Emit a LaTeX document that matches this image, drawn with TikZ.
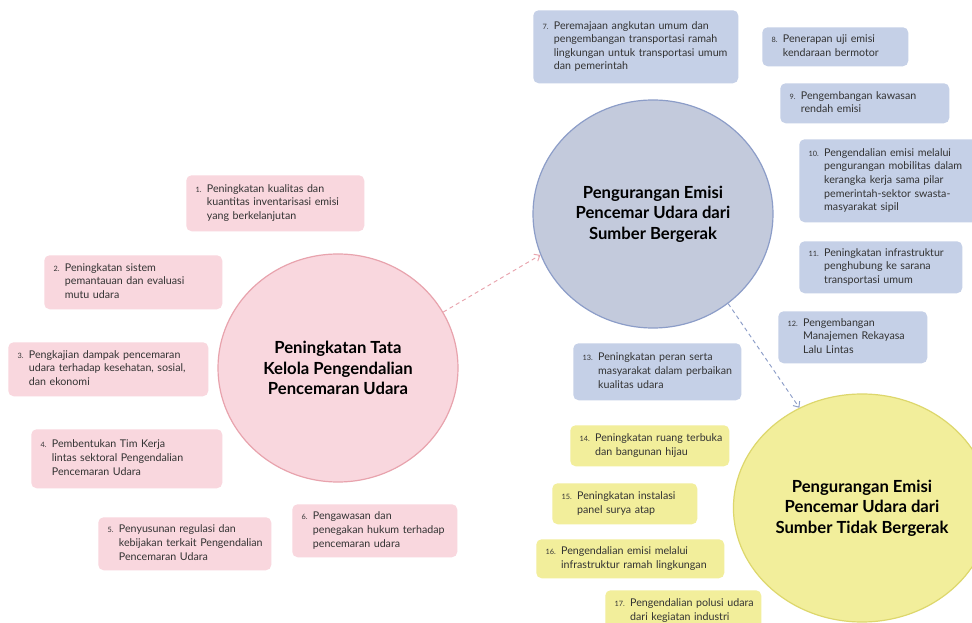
\documentclass[tikz,border=0pt]{standalone}
\usepackage{fontspec}
\setmainfont{Lato}
\usetikzlibrary{shapes.geometric, arrows, arrows.meta, positioning}

\definecolor{pinkfill}{HTML}{F9D7DE}
\definecolor{pinkline}{HTML}{E8A3AD}
\definecolor{bluefill}{HTML}{C5D0E7}
\definecolor{bluecirc}{HTML}{C3CADC}
\definecolor{blueline}{HTML}{8C9DC8}
\definecolor{yellowfill}{HTML}{F2EE9B}
\definecolor{yellowline}{HTML}{DDD76C}
\definecolor{textgray}{HTML}{333333}

% item text: small number, then the lines hanging beside it
\newcommand{\itm}[2]{%
  \begin{tabular}[t]{@{}l@{\hspace{4pt}}l@{}}
    {\fontsize{5.5}{10.2}\selectfont #1} &
    \begin{tabular}[t]{@{}l@{}}#2\end{tabular}
  \end{tabular}}

\tikzset{
  itembox/.style={rectangle, rounded corners=4pt, anchor=north west,
    inner xsep=7pt, inner ysep=2pt, align=left, text=textgray,
    font=\fontsize{8}{10.2}\selectfont},
  box size/.style 2 args={minimum width=#1*0.75pt, minimum height=#2*0.75pt,
    text width=#1*0.75pt-14pt},
  pinkbox/.style={itembox, fill=pinkfill},
  bluebox/.style={itembox, fill=bluefill},
  yellowbox/.style={itembox, fill=yellowfill},
  topic/.style={ellipse, minimum width=180pt, minimum height=171pt,
    line width=0.9pt, align=center, text=black,
    font=\fontsize{12.5}{15.5}\selectfont\bfseries},
  link/.style={-{Straight Barb[length=3.5pt, width=6pt]}, dash pattern=on 3pt off 2.5pt,
    line width=0.7pt},
}

\begin{document}
\begin{tikzpicture}[x=0.75pt, y=-0.75pt]
  \clip (0,0) rectangle (972,623);
  \fill[white] (0,0) rectangle (972,623);

  % three main topics
  \node[topic, fill=pinkfill, draw=pinkline] (tata) at (338,368)
    {Peningkatan Tata\\Kelola Pengendalian\\Pencemaran Udara};
  \node[topic, fill=bluecirc, draw=blueline] (gerak) at (653,214)
    {Pengurangan Emisi\\Pencemar Udara dari\\Sumber Bergerak};
  \node[topic, fill=yellowfill, draw=yellowline] (diam) at (862,508)
    {Pengurangan Emisi\\Pencemar Udara dari\\Sumber Tidak Bergerak};

  \draw[link, pinkline] (tata.28) -- (gerak.200);
  \draw[link, blueline] (gerak.310) -- (diam.122);

  % tata kelola
  \node[pinkbox, box size={178}{56}] (p1) at (186,175)
    {\itm{1.}{Peningkatan kualitas dan\\kuantitas inventarisasi emisi\\yang berkelanjutan}};
  \node[pinkbox, box size={178}{54}] (p2) at (44,255)
    {\itm{2.}{Peningkatan sistem\\pemantauan dan evaluasi\\mutu udara}};
  \node[pinkbox, box size={200}{54}] (p3) at (8,342)
    {\itm{3.}{Pengkajian dampak pencemaran\\udara terhadap kesehatan, sosial,\\dan ekonomi}};
  \node[pinkbox, box size={191}{59}] (p4) at (31,429)
    {\itm{4.}{Pembentukan Tim Kerja\\lintas sektoral Pengendalian\\Pencemaran Udara}};
  \node[pinkbox, box size={173}{53}] (p5) at (98,517)
    {\itm{5.}{Penyusunan regulasi dan\\kebijakan terkait Pengendalian\\Pencemaran Udara}};
  \node[pinkbox, box size={165}{53}] (p6) at (292,504)
    {\itm{6.}{Pengawasan dan\\penegakan hukum terhadap\\pencemaran udara}};

  % sumber bergerak
  \node[bluebox, box size={205}{73}] (b7) at (533,10)
    {\itm{7.}{Peremajaan angkutan umum dan\\pengembangan transportasi ramah\\lingkungan untuk transportasi umum\\dan pemerintah}};
  \node[bluebox, box size={146}{39}] (b8) at (762,27)
    {\itm{8.}{Penerapan uji emisi\\kendaraan bermotor}};
  \node[bluebox, box size={169}{40}] (b9) at (780,83)
    {\itm{9.}{Pengembangan kawasan\\rendah emisi}};
  \node[bluebox, box size={190}{83}] (b10) at (799,139)
    {\itm{10.}{Pengendalian emisi melalui\\pengurangan mobilitas dalam\\kerangka kerja sama pilar\\pemerintah-sektor swasta-\\masyarakat sipil}};
  \node[bluebox, box size={163}{52}] (b11) at (799,241)
    {\itm{11.}{Peningkatan infrastruktur\\penghubung ke sarana\\transportasi umum}};
  \node[bluebox, box size={149}{52}] (b12) at (778,311)
    {\itm{12.}{Pengembangan\\Manajemen Rekayasa\\Lalu Lintas}};
  \node[bluebox, box size={168}{57}] (b13) at (573,343)
    {\itm{13.}{Peningkatan peran serta\\masyarakat dalam perbaikan\\kualitas udara}};

  % sumber tidak bergerak
  \node[yellowbox, box size={159}{41}] (y14) at (570,425)
    {\itm{14.}{Peningkatan ruang terbuka\\dan bangunan hijau}};
  \node[yellowbox, box size={145}{41}] (y15) at (552,483)
    {\itm{15.}{Peningkatan instalasi\\panel surya atap}};
  \node[yellowbox, box size={188}{39}] (y16) at (536,539)
    {\itm{16.}{Pengendalian emisi melalui\\infrastruktur ramah lingkungan}};
  \node[yellowbox, box size={156}{41}] (y17) at (605,590)
    {\itm{17.}{Pengendalian polusi udara\\dari kegiatan industri}};
\end{tikzpicture}
\end{document}
